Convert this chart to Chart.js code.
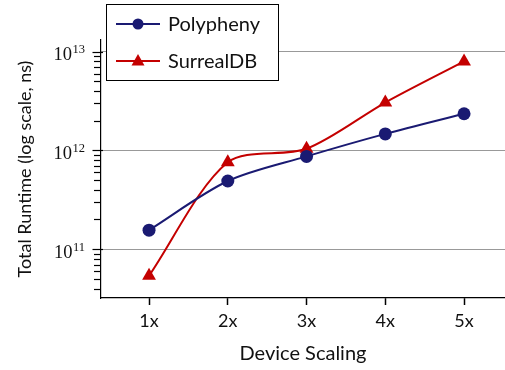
<!DOCTYPE html>
<html>
<head>
<meta charset="utf-8">
<script src="https://cdn.jsdelivr.net/npm/chart.js@4/dist/chart.umd.min.js"></script>
<style>
html,body{margin:0;padding:0;background:#fff;}
#wrap{width:505px;height:370px;position:relative;}
</style>
</head>
<body>
<div id="wrap"><canvas id="c" width="505" height="370"></canvas></div>
<script>
const categories = ['1x', '2x', '3x', '4x', '5x'];
const categoryPositions = [1, 2, 3, 4, 5];
const polypheny = [1.56e11, 4.9e11, 8.7e11, 1.47e12, 2.35e12];
const surrealdb = [5.4e10, 7.6e11, 1.04e12, 3.05e12, 7.95e12];
const yTickValues = [4e10,5e10,6e10,7e10,8e10,9e10,
  1e11,2e11,3e11,4e11,5e11,6e11,7e11,8e11,9e11,
  1e12,2e12,3e12,4e12,5e12,6e12,7e12,8e12,9e12,1e13];
const yMajorValues = [1e11, 1e12, 1e13];
const yMajorBase = ['10', '10', '10'];
const yMajorExp = ['11', '12', '13'];

const SANS = 'Lato, "Open Sans", sans-serif';
const SERIF = '"Liberation Serif", serif';
const NAVY = '#1a1a72';
const RED = '#c40000';

function pts(vals){ return vals.map((v,i)=>({x: categoryPositions[i], y: v})); }
function isMajor(v){ return yMajorValues.some(m => Math.abs(m - v) / m < 1e-9); }

const yAxisMarks = {
  id: 'yAxisMarks',
  afterDraw(chart){
    const ctx = chart.ctx, s = chart.scales.y;
    const ax = chart.chartArea.left;
    ctx.save();
    ctx.strokeStyle = '#000';
    ctx.lineWidth = 1.2;
    yTickValues.forEach(v => {
      const y = Math.round(s.getPixelForValue(v)) + 0.5;
      const major = isMajor(v);
      ctx.beginPath();
      ctx.moveTo(ax - (major ? 8.5 : 7), y);
      ctx.lineTo(ax + (major ? 2 : 0), y);
      ctx.stroke();
    });
    ctx.fillStyle = '#111';
    ctx.textAlign = 'right';
    ctx.textBaseline = 'alphabetic';
    yMajorValues.forEach((v, i) => {
      const y = s.getPixelForValue(v);
      const right = 85;
      ctx.font = '12.5px ' + SERIF;
      const ew = ctx.measureText(yMajorExp[i]).width;
      ctx.fillText(yMajorExp[i], right, y + 1.5);
      ctx.font = '18.5px ' + SERIF;
      ctx.fillText(yMajorBase[i], right - ew - 0.5, y + 8.5);
    });
    ctx.restore();
  }
};

const legendBox = {
  id: 'legendBox',
  afterDraw(chart){
    const ctx = chart.ctx;
    ctx.save();
    const x0 = 106.5, y0 = 4.5, w = 172, h = 76;
    ctx.fillStyle = '#fff';
    ctx.fillRect(x0, y0, w, h);
    ctx.strokeStyle = '#000';
    ctx.lineWidth = 1;
    ctx.strokeRect(x0, y0, w, h);
    const rows = [24, 61];
    chart.data.datasets.forEach((ds, i) => {
      const y = rows[i];
      ctx.strokeStyle = ds.borderColor;
      ctx.lineWidth = 2;
      ctx.beginPath(); ctx.moveTo(116, y); ctx.lineTo(160, y); ctx.stroke();
      ctx.fillStyle = ds.borderColor;
      ctx.beginPath();
      if (ds.pointStyle === 'triangle') {
        ctx.moveTo(138, y - 7); ctx.lineTo(144.5, y + 4.5); ctx.lineTo(131.5, y + 4.5); ctx.closePath();
      } else {
        ctx.arc(138, y, 5.5, 0, Math.PI * 2);
      }
      ctx.fill();
      ctx.fillStyle = '#111';
      ctx.font = '20px ' + SANS;
      ctx.textAlign = 'left';
      ctx.textBaseline = 'middle';
      ctx.fillText(ds.label, 168, y + 1);
    });
    ctx.restore();
  }
};

new Chart(document.getElementById('c'), {
  type: 'line',
  data: {
    datasets: [
      {label: 'Polypheny', data: pts(polypheny), borderColor: NAVY, backgroundColor: NAVY,
       pointStyle: 'circle', pointRadius: 6.5, pointBorderWidth: 0, borderWidth: 2, tension: 0.3},
      {label: 'SurrealDB', data: pts(surrealdb), borderColor: RED, backgroundColor: RED,
       pointStyle: 'triangle', pointRadius: 8, pointBorderWidth: 0, borderWidth: 2, tension: 0.3}
    ]
  },
  options: {
    responsive: false,
    animation: false,
    layout: {autoPadding: false, padding: {top: 40, right: 0, left: 0, bottom: 0}},
    plugins: {legend: {display: false}, tooltip: {enabled: false}},
    scales: {
      x: {
        type: 'linear', min: 0.39, max: 5.52,
        afterBuildTicks: s => { s.ticks = categoryPositions.map(v => ({value: v})); },
        afterFit: s => { s.height = 72; s.paddingRight = 0; s.paddingLeft = 0; },
        ticks: {autoSkip: false, color: '#111', font: {family: SANS, size: 18}, padding: 5,
                callback: (v) => categories[categoryPositions.indexOf(v)] ?? ''},
        grid: {drawOnChartArea: false, drawTicks: true, tickLength: 7, color: '#000', tickWidth: 1.5},
        border: {color: '#000', width: 1.2},
        title: {display: true, text: 'Device Scaling', color: '#111', font: {family: SANS, size: 20}, padding: {top: 2}}
      },
      y: {
        type: 'logarithmic', min: 3.21e10, max: 1.31e13,
        afterBuildTicks: s => { s.ticks = yTickValues.map(v => ({value: v})); },
        afterFit: s => { s.width = 101; s.paddingTop = 0; s.paddingBottom = 0; },
        ticks: {display: false, autoSkip: false},
        grid: {drawTicks: false,
               color: ctx => (ctx.tick && isMajor(ctx.tick.value)) ? '#999' : 'rgba(0,0,0,0)',
               lineWidth: 1},
        border: {color: '#000', width: 1.2},
        title: {display: true, text: 'Total Runtime (log scale, ns)', color: '#111', font: {family: SANS, size: 18}, padding: {top: 14, bottom: 0}}
      }
    }
  },
  plugins: [yAxisMarks, legendBox]
});
</script>
</body>
</html>
